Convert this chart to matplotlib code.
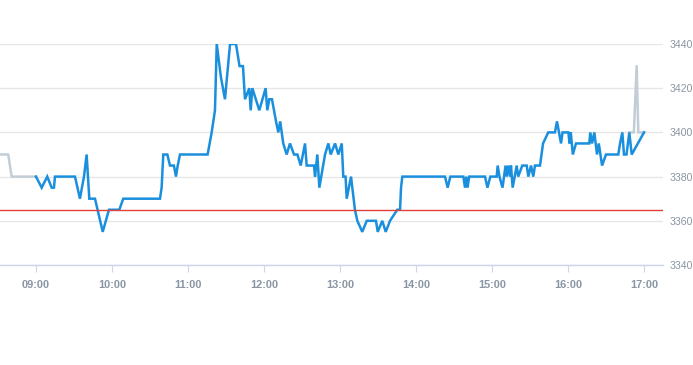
import matplotlib
matplotlib.use("Agg")
import matplotlib.pyplot as plt

# Times are minutes after 09:00
main_t = [0, 4.5, 8.9, 12.4, 14.2, 15, 30.8, 34.7, 37.9, 40, 42.1, 46.6, 52.7, 57.6, 65.8, 68.9,
          97.9, 99.2, 100.5, 103.7, 105.8, 108.9, 110.5, 111.9, 113.7, 135.5, 138.7, 141.3, 142.7,
          146, 149.2, 153.2, 157.9, 160.7, 163.4, 165, 168.4, 169.5, 170.8, 176.3, 181.3, 182.6,
          184.2, 186.3, 189.5, 191.3, 192.8, 195.2, 197.9, 200.5, 203.7, 206.4, 209, 212.4, 213.7,
          219.5, 220.3, 222.1, 223.7, 228.2, 230.8, 232.7, 236.1, 238.7, 241.4, 242.6, 244.4, 245.3,
          248.7, 251.8, 253.7, 257.6, 261.1, 268.4, 269.8, 273.4, 276.1, 279.5, 285.2, 287.4, 288.2,
          289.2, 322.9, 325, 327.1, 337.4, 338.7, 339.7, 340.7, 342, 354.5, 356.4, 358.7, 363.7,
          364.5, 365.9, 368.3, 370.7, 371.6, 372.9, 374.2, 375, 376.3, 379.5, 380.7, 383.9, 387.4,
          388.7, 390.8, 392.6, 393.9, 397.9, 400.3, 404.4, 409.7, 411.3, 414.5, 415.7, 420.3, 421.2,
          422.2, 423.8, 426.3, 436.8, 437.6, 439, 440.8, 442.9, 444.3, 446.9, 450, 459.7, 461.1,
          462.9, 464.2, 466.2, 468.4, 470.3, 480]
main_v = [3380, 3375, 3380, 3375, 3375, 3380, 3380, 3370, 3380, 3390, 3370, 3370, 3355, 3365, 3365, 3370,
          3370, 3375, 3390, 3390, 3385, 3385, 3380, 3385, 3390, 3390, 3400, 3410, 3440,
          3425, 3415, 3440, 3440, 3430, 3430, 3415, 3420, 3410, 3420, 3410, 3420, 3410,
          3415, 3415, 3405, 3400, 3405, 3395, 3390, 3395, 3390, 3390, 3385, 3395, 3385,
          3385, 3380, 3390, 3375, 3390, 3395, 3390, 3395, 3390, 3395, 3380, 3380, 3370,
          3380, 3365, 3360, 3355, 3360, 3360, 3355, 3360, 3355, 3360, 3365, 3365, 3375,
          3380, 3380, 3375, 3380, 3380, 3375, 3380, 3375, 3380, 3380, 3375, 3380, 3380,
          3385, 3380, 3375, 3385, 3380, 3385, 3380, 3385, 3375, 3385, 3380, 3385, 3385,
          3380, 3385, 3380, 3385, 3385, 3395, 3400, 3400, 3405, 3395, 3400, 3400, 3395,
          3400, 3390, 3395, 3395, 3400, 3395, 3400, 3390, 3395, 3385, 3390, 3390, 3395,
          3400, 3390, 3390, 3400, 3390, 3400]

pre_t = [-28.4, -21.9, -19.2, 0]
pre_v = [3390, 3390, 3380, 3380]
post_t = [468.4, 472, 474.2, 475.5, 480]
post_v = [3400, 3400, 3430, 3400, 3400]

ref_level = 3365
y_ticks = [3340, 3360, 3380, 3400, 3420, 3440]
x_ticks = [0, 60, 120, 180, 240, 300, 360, 420, 480]
x_labels = ["09:00", "10:00", "11:00", "12:00", "13:00", "14:00", "15:00", "16:00", "17:00"]

W, H = 693, 365
fig = plt.figure(figsize=(W / 100, H / 100), dpi=100)
ax = fig.add_axes([0, 1 - 265 / H, 663 / W, (265 - 44) / H])

ax.set_xlim(-28.4, 495)
ax.set_ylim(3340, 3440)

for y in y_ticks:
    ax.axhline(y, color="#e6e6e6", lw=1, zorder=0)

ax.plot(pre_t, pre_v, color="#c3cdd6", lw=1.8, zorder=2)
ax.plot(post_t, post_v, color="#c3cdd6", lw=1.8, zorder=2)
ax.plot(main_t, main_v, color="#1a8fdd", lw=1.8, zorder=3, solid_joinstyle="miter")
ax.axhline(ref_level, color="#e0403a", lw=1, zorder=4)

for s in ["top", "left", "right"]:
    ax.spines[s].set_visible(False)
ax.spines["bottom"].set_color("#ccd6eb")
ax.spines["bottom"].set_linewidth(1)

ax.set_xticks(x_ticks)
ax.set_xticklabels(x_labels, fontsize=7.9, fontweight="semibold", color="#8a96a3",
                   family="Liberation Sans")
ax.tick_params(axis="x", length=5, color="#ccd6eb", pad=6)

ax.yaxis.tick_right()
ax.set_yticks(y_ticks)
ax.set_yticklabels([str(v) for v in y_ticks], fontsize=7.6, color="#8a96a3",
                   family="Liberation Sans")
ax.tick_params(axis="y", length=0, pad=5)

fig.savefig("out.png", dpi=100)
